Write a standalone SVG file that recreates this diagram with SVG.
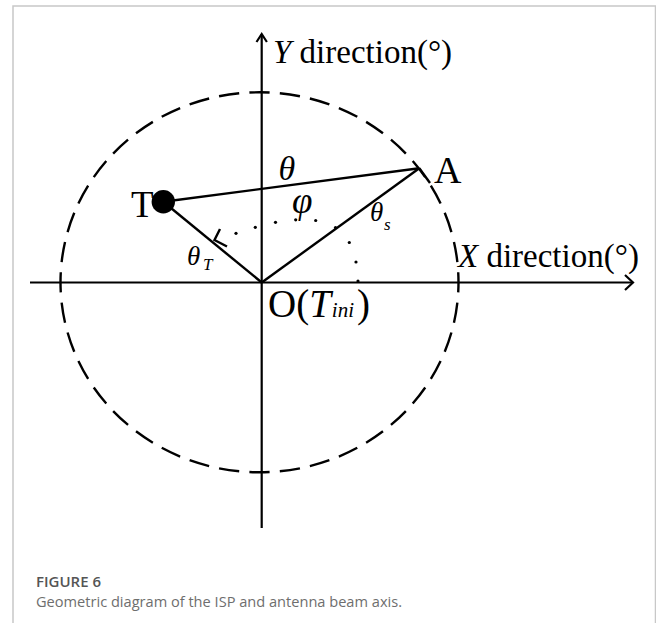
<svg xmlns="http://www.w3.org/2000/svg" width="656" height="623" viewBox="0 0 656 623">
  <style>
    .ln { stroke: #000; stroke-width: 2.4; fill: none; stroke-linecap: butt; }
    .ax { stroke: #000; stroke-width: 2.2; fill: none; }
    .serif { font-family: "Liberation Serif", "Times New Roman", serif; fill: #000; }
    .it { font-style: italic; }
    .dot { fill: #000; }
    .cap { font-family: "Open Sans", "Noto Sans", sans-serif; }
  </style>
  <rect width="656" height="623" fill="#fff"/>
  <path d="M13,623 V6 H655.5 V623" fill="none" stroke="#c8c8c8" stroke-width="1.5"/>

  <g id="axes">
    <line class="ax" x1="261.7" y1="528" x2="261.7" y2="34"/>
    <polyline class="ax" points="256.5,42 261.7,34 266.9,42"/>
    <line class="ax" x1="30" y1="282.5" x2="633" y2="282.5"/>
    <polyline class="ax" points="625,275 633,282.5 625,290"/>
    <text class="serif" x="273" y="62.5" font-size="33"><tspan class="it">Y</tspan> direction(°)</text>
    <text class="serif" x="458" y="267" font-size="33"><tspan class="it">X</tspan> direction(°)</text>
  </g>

  <g id="circle">
    <ellipse cx="259.5" cy="282.3" rx="199" ry="190" fill="none" stroke="#000" stroke-width="2.4" pathLength="1200" stroke-dasharray="20 10" stroke-dashoffset="10"/>
  </g>

  <g id="connectors">
    <line class="ln" x1="163.3" y1="201.7" x2="419.3" y2="168.3"/>
    <line class="ln" x1="163.3" y1="201.7" x2="261.7" y2="282.5"/>
    <line class="ln" x1="261.7" y1="282.5" x2="419.3" y2="168.3"/>
    <line class="ln" x1="419.3" y1="168.3" x2="430" y2="183"/>
    <polyline class="ln" stroke-width="3" points="220,229 214.5,240 227,246.5"/>
  </g>

  <g id="angle-arc">
    <circle class="dot" cx="236" cy="233.3" r="1.6"/>
    <circle class="dot" cx="255.3" cy="227.3" r="1.6"/>
    <circle class="dot" cx="275.5" cy="222.3" r="1.6"/>
    <circle class="dot" cx="295.7" cy="219.8" r="1.6"/>
    <circle class="dot" cx="315.7" cy="220.5" r="1.6"/>
    <circle class="dot" cx="335.5" cy="227.5" r="1.6"/>
    <circle class="dot" cx="349.3" cy="242.5" r="1.6"/>
    <circle class="dot" cx="356" cy="262" r="1.6"/>
    <circle class="dot" cx="358" cy="281" r="1.6"/>
  </g>

  <g id="node-T">
    <circle cx="163.3" cy="201.7" r="11.7" fill="#000"/>
    <text class="serif" x="131" y="217" font-size="37">T</text>
  </g>

  <g id="node-A">
    <text class="serif" x="434" y="182.5" font-size="38">A</text>
  </g>

  <g id="node-O">
    <text class="serif" x="268" y="316.5" font-size="39">O(<tspan class="it">T</tspan><tspan class="it" dx="1" font-size="21">ini</tspan><tspan dx="3">)</tspan></text>
  </g>

  <g id="labels">
    <text class="serif it" x="278.5" y="180" font-size="34">θ</text>
    <text class="serif it" x="292" y="213" font-size="37">φ</text>
    <text class="serif it" x="370" y="221" font-size="27">θ<tspan x="384" y="230" font-size="17">s</tspan></text>
    <text class="serif it" x="187" y="265" font-size="27">θ<tspan x="203" y="270" font-size="17">T</tspan></text>
  </g>

  <g id="caption">
    <text class="cap" x="36" y="586.5" font-size="15" font-weight="600" fill="#555">FIGURE 6</text>
    <text class="cap" x="36" y="607" font-size="14.6" fill="#6e6e6e">Geometric diagram of the ISP and antenna beam axis.</text>
  </g>
</svg>
